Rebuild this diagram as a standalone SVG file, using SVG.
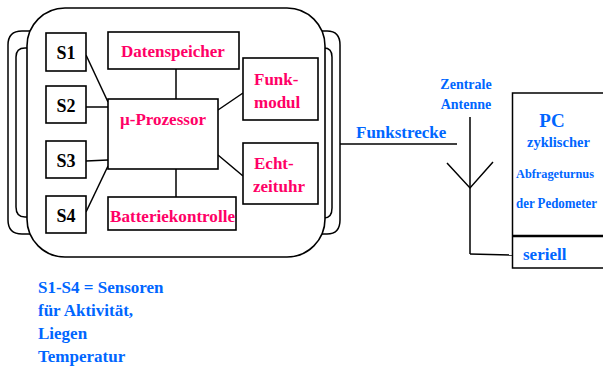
<svg xmlns="http://www.w3.org/2000/svg" width="603" height="369" viewBox="0 0 603 369" font-family="'Liberation Serif', 'Times New Roman', 'DejaVu Serif', serif" font-weight="bold">
<style>
.ln{fill:none;stroke:#000;stroke-width:1.5}
.bx{fill:#fff;stroke:#000;stroke-width:1.6}
text{font-family:'Liberation Serif','Times New Roman','DejaVu Serif',serif;font-weight:bold}
.pk{fill:#ff0066;font-size:17px}
.bk{fill:#000;font-size:18px;text-anchor:middle}
.bl{fill:#0066ff}
</style>
<rect width="603" height="369" fill="#fff"/>
<g id="housing">
<path class="ln" d="M34,31 H22 Q8,31 8,45 V220 Q8,234 22,234 H34"/>
<path class="ln" d="M30,48 H25 Q16,48 16,57 V207 Q16,217 25,217 H30"/>
<path class="ln" d="M318,31 H327 Q340,31 340,45 V220 Q340,234 327,234 H318"/>
<path class="ln" d="M322,48 H324 Q332,48 332,57 V208 Q332,218 324,218 H322"/>
<rect class="bx" x="27" y="8" width="298" height="249" rx="38" ry="38"/>
</g>
<g id="connectors">
<line class="ln" x1="86" y1="55" x2="108" y2="102"/>
<line class="ln" x1="86" y1="107" x2="108" y2="107"/>
<line class="ln" x1="86" y1="161" x2="108" y2="160"/>
<line class="ln" x1="86" y1="212" x2="108" y2="166"/>
<line class="ln" x1="176" y1="69" x2="176" y2="99"/>
<line class="ln" x1="176" y1="169" x2="176" y2="197"/>
<line class="ln" x1="218" y1="110" x2="243" y2="93"/>
<line class="ln" x1="218" y1="155" x2="243" y2="176"/>
<line class="ln" x1="340" y1="144" x2="457" y2="144"/>
<line class="ln" x1="470" y1="117" x2="470" y2="254"/>
<polyline class="ln" points="447,163 470,188 493,162"/>
<polyline class="ln" points="470,254 513,255"/>
</g>
<g id="s1"><rect class="bx" x="46" y="33" width="40" height="38"/><text class="bk" x="66" y="59">S1</text></g>
<g id="s2"><rect class="bx" x="46" y="86" width="40" height="37"/><text class="bk" x="66" y="112">S2</text></g>
<g id="s3"><rect class="bx" x="46" y="141" width="40" height="37"/><text class="bk" x="66" y="167">S3</text></g>
<g id="s4"><rect class="bx" x="46" y="196" width="40" height="37"/><text class="bk" x="66" y="222">S4</text></g>
<g id="datenspeicher"><rect class="bx" x="108" y="32" width="131" height="37"/><text class="pk" x="121" y="57">Datenspeicher</text></g>
<g id="prozessor"><rect class="bx" x="108" y="99" width="110" height="70"/><text class="pk" x="120" y="125">µ-Prozessor</text></g>
<g id="batterie"><rect class="bx" x="108" y="197" width="128" height="33"/><text class="pk" x="110" y="222" textLength="125" lengthAdjust="spacingAndGlyphs">Batteriekontrolle</text></g>
<g id="funkmodul"><rect class="bx" x="243" y="58" width="75" height="62"/><text class="pk" x="254" y="85">Funk-</text><text class="pk" x="254" y="108">modul</text></g>
<g id="echtzeituhr"><rect class="bx" x="243" y="143" width="75" height="61"/><text class="pk" x="254" y="169">Echt-</text><text class="pk" x="253" y="192">zeituhr</text></g>
<g id="antenne"><text class="bl" x="466" y="89" font-size="14" text-anchor="middle">Zentrale</text><text class="bl" x="466" y="109" font-size="14" text-anchor="middle">Antenne</text></g>
<g id="funkstrecke"><text class="bl" x="356" y="138" font-size="17">Funkstrecke</text></g>
<g id="pc">
<path class="ln" d="M610,93 H512.5 V268 H610"/>
<line x1="512" y1="236" x2="610" y2="236" stroke="#000" stroke-width="2.6"/>
<text class="bl" x="552" y="127" font-size="19" text-anchor="middle">PC</text>
<text class="bl" x="527" y="147" font-size="14.5">zyklischer</text>
<text class="bl" x="516" y="178" font-size="13.5" textLength="78" lengthAdjust="spacingAndGlyphs">Abfrageturnus</text>
<text class="bl" x="516" y="208" font-size="14" textLength="81" lengthAdjust="spacingAndGlyphs">der Pedometer</text>
<text class="bl" x="523" y="260" font-size="17">seriell</text>
</g>
<g id="legende" class="bl" font-size="17">
<text x="38" y="293">S1-S4 = Sensoren</text>
<text x="38" y="316">für Aktivität,</text>
<text x="38" y="339">Liegen</text>
<text x="38" y="362">Temperatur</text>
</g>
</svg>
